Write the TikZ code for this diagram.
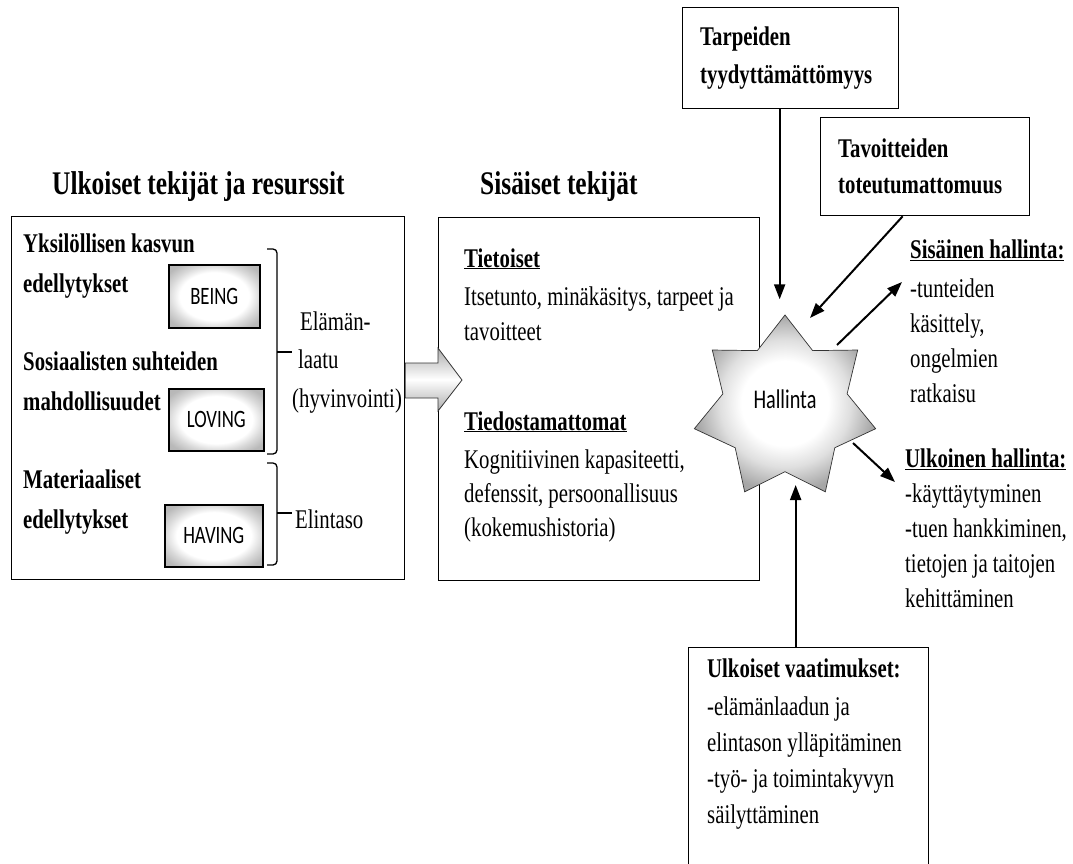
\documentclass[tikz,border=0pt]{standalone}
\usepackage{fontspec}
\setmainfont{Liberation Serif}[FakeStretch=0.77]
\newfontfamily\sansf{Carlito}[FakeStretch=0.75]
\usetikzlibrary{shapes.geometric,arrows.meta,calc}
\pgfdeclareradialshading{starshade}{\pgfpoint{0bp}{0bp}}{color(0bp)=(white); color(12bp)=(white); color(18bp)=(gray!25); color(25bp)=(gray!70); color(50bp)=(gray!70)}
\pgfdeclareradialshading{boxshade}{\pgfpoint{0bp}{0bp}}{color(0bp)=(white); color(19bp)=(white); color(25bp)=(gray!30); color(31bp)=(gray!55); color(50bp)=(gray!60)}
\tikzset{
 frame/.style={draw, line width=1.3pt, inner sep=0pt, anchor=north west},
 tagbox/.style={frame, line width=1.6pt, shade, shading=boxshade, font=\sansf\fontsize{25}{28}\selectfont},
 txt/.style={anchor=base west, align=left, inner sep=0pt, font=\fontsize{27}{35}\selectfont},
 btxt/.style={anchor=base west, align=left, inner sep=0pt, font=\bfseries\fontsize{27}{39.5}\selectfont},
 ttl/.style={anchor=base west, inner sep=0pt, font=\bfseries\fontsize{33}{40}\selectfont},
 arr/.style={line width=2pt, -{Triangle[length=15pt,width=11pt]}},
 brk/.style={line width=1.3pt, rounded corners=4pt},
}
\begin{document}
% note: multi-line nodes are placed by the baseline of their LAST line
\begin{tikzpicture}[x=1pt,y=-1pt]
\useasboundingbox (0,0) rectangle (1073,863);
% titles
\node[ttl] (t1) at (52,194) {Ulkoiset tekijät ja resurssit};
\node[ttl] (t2) at (480,194) {Sisäiset tekijät};
% main boxes
\node[frame, minimum width=393pt, minimum height=363pt] (lbox) at (11,216) {};
\node[frame, minimum width=321pt, minimum height=363pt] (mbox) at (438,217) {};
% left box content
\node[btxt] (y1) at (23,292) {Yksilöllisen kasvun\\edellytykset};
\node[btxt] (y2) at (23,410) {Sosiaalisten suhteiden\\mahdollisuudet};
\node[btxt] (y3) at (23,528) {Materiaaliset\\edellytykset};
\node[tagbox, minimum width=91pt, minimum height=63pt] (being) at (168,264) {BEING};
\node[tagbox, minimum width=95pt, minimum height=62pt] (loving) at (168,388) {LOVING};
\node[tagbox, minimum width=98pt, minimum height=62pt] (having) at (164,504) {HAVING};
\draw[brk] (267,249) -- (277,249) -- (277,454) -- (267,454);
\draw[line width=1.3pt] (277,352) -- (292,352);
\draw[brk] (267,463) -- (277,463) -- (277,565) -- (267,565);
\draw[line width=1.3pt] (277,513) -- (292,513);
\node[txt, font=\fontsize{27}{38.5}\selectfont] (ela) at (292,407) {\hspace*{8pt}Elämän-\\\hspace*{6pt}laatu\\(hyvinvointi)};
\node[txt] (elin) at (295,528) {Elintaso};
% block arrow
\shade[top color=gray!65, bottom color=gray!65, middle color=white, draw=gray!40!black, line width=0.8pt]
  (lbox.east |- 0,363) -- (mbox.west |- 0,363) -- (mbox.west |- 0,348) -- (462,380)
  -- (mbox.west |- 0,411) -- (mbox.west |- 0,398) -- (lbox.east |- 0,398) -- cycle;
% middle box content
\node[btxt] (h1) at (464,267) {\underline{Tietoiset}};
\node[txt] (b1) at (464,340) {Itsetunto, minäkäsitys, tarpeet ja\\tavoitteet};
\node[btxt] (h2) at (464,430) {\underline{Tiedostamattomat}};
\node[txt, font=\fontsize{27}{34}\selectfont] (b2) at (464,536) {Kognitiivinen kapasiteetti,\\defenssit, persoonallisuus\\(kokemushistoria)};
% star
\node[star, star points=7, star point ratio=1.46, minimum size=186pt, inner sep=0pt,
  shade, shading=starshade, draw=gray!40!black, line width=0.7pt] (star) at (785,408) {};
\node[anchor=base, inner sep=0pt, font=\sansf\fontsize{27}{30}\selectfont] (hal) at (785,408) {Hallinta};
% top boxes
\node[frame, minimum width=216pt, minimum height=101pt] (tarp) at (682,7) {};
\node[btxt, font=\bfseries\fontsize{27}{38}\selectfont] (tarpt) at (700,83) {Tarpeiden\\tyydyttämättömyys};
\node[frame, minimum width=209pt, minimum height=98pt] (tavo) at (820,117) {};
\node[btxt, font=\bfseries\fontsize{27}{36}\selectfont] (tavot) at (838,193) {Tavoitteiden\\toteutumattomuus};
% right texts
\node[btxt] (sh) at (910,258) {\underline{Sisäinen hallinta:}};
\node[txt] (shl) at (910,402) {-tunteiden\\käsittely,\\ongelmien\\ratkaisu};
\node[btxt] (uh) at (905,467) {\underline{Ulkoinen hallinta:}};
\node[txt] (uhl) at (905,607) {-käyttäytyminen\\-tuen hankkiminen,\\tietojen ja taitojen\\kehittäminen};
% bottom box
\node[frame, minimum width=240pt, minimum height=240pt] (ulk) at (688,647) {};
\node[btxt] (ulkh) at (707,677) {Ulkoiset vaatimukset:};
\node[txt, font=\fontsize{27}{36}\selectfont] (ulkl) at (707,823) {-elämänlaadun ja\\elintason ylläpitäminen\\-työ- ja toimintakyvyn\\säilyttäminen};
% arrows
\coordinate (e2) at (810,318);
\coordinate (s3) at (837,345);
\coordinate (e3) at (902,282);
\coordinate (s4) at (853,443);
\coordinate (e4) at (895,482);
\draw[arr] ([xshift=-11pt]tarp.south) -- ++(0,190);
\draw[arr] ([xshift=-22.5pt]tavo.south) -- (e2);
\draw[arr] (s3) -- (e3);
\draw[arr] (s4) -- (e4);
\draw[arr] ([xshift=-13pt]ulk.north) -- ++(0,-162);
\end{tikzpicture}
\end{document}
